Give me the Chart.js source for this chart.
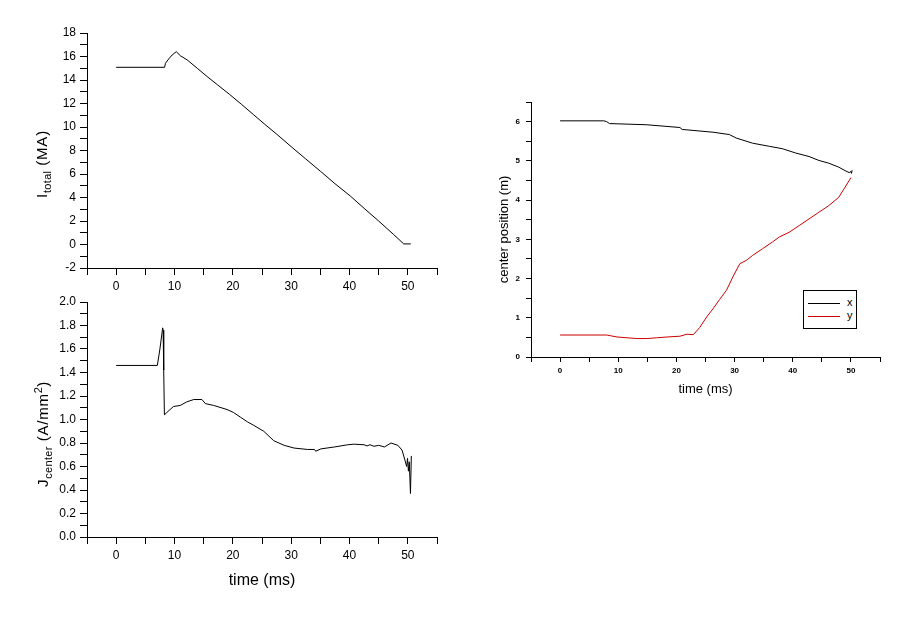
<!DOCTYPE html>
<html>
<head>
<meta charset="utf-8">
<script src="https://cdn.jsdelivr.net/npm/chart.js@4.4.1/dist/chart.umd.min.js"></script>
<style>
    body {
        margin: 0;
        width: 906px;
        height: 617px;
        position: relative;
        overflow: hidden;
        background: #fff;
        font-family: "Liberation Sans", Arial, sans-serif;
    }
    canvas { position: absolute; }
    .ytitle {
        position: absolute;
        transform: translate(-50%, -50%) rotate(-90deg);
        white-space: nowrap;
        font-size: 15px;
        letter-spacing: 0.8px;
        line-height: 17px;
        color: #000;
    }
    .ytitle sub, .ytitle sup { font-size: 11px; letter-spacing: 0.3px; }
    #legend {
        position: absolute;
        left: 803px;
        top: 290px;
        width: 52px;
        height: 37px;
        border: 1px solid #000;
        background: #fff;
        font-size: 11px;
    }
    #legend .row { position: absolute; left: 4px; height: 12px; }
    #legend .line { position: absolute; left: 0; top: 6px; width: 32px; height: 1px; }
    #legend .lbl { position: absolute; left: 39px; top: -1px; }
</style>
</head>
<body>

<canvas id="currentChart" width="450" height="290" style="left:0;top:0"></canvas>
<canvas id="densityChart" width="450" height="327" style="left:0;top:290px"></canvas>
<canvas id="positionChart" width="420" height="330" style="left:480px;top:80px"></canvas>

<div class="ytitle" style="left:44px;top:164px">I<sub>total</sub> (MA)</div>
<div class="ytitle" style="left:43px;top:434px">J<sub>center</sub> (A/mm<sup>2</sup>)</div>

<div id="legend">
    <div class="row" style="top:6px"><div class="line" style="background:#000"></div><span class="lbl">x</span></div>
    <div class="row" style="top:19px"><div class="line" style="background:#cc0000"></div><span class="lbl">y</span></div>
</div>

<script>
// total current (MA)
const timeI = [0, 8.3, 8.45, 9.0, 9.6, 10.3, 11.0, 12.2, 13.9, 15.6, 17.4, 19.4, 21.5, 23.5, 25.5, 27.5, 30.3, 32.5, 35.0, 37.5, 40.2, 42.5, 45.0, 47.5, 49.3, 50.5];
const valueI = [15.08, 15.08, 15.42, 15.79, 16.13, 16.41, 16.07, 15.7, 15.0, 14.29, 13.58, 12.79, 11.92, 11.07, 10.22, 9.4, 8.2, 7.28, 6.24, 5.18, 4.1, 3.08, 2.0, 0.88, 0.05, 0.05];

// current density at the center (A/mm2)
const timeJ = [0, 7.06, 7.5, 7.97, 8.05, 8.15, 8.27, 8.7, 9.8, 11.0, 12.1, 13.3, 14.7, 15.3, 16.7, 19.0, 20.1, 21.3, 22.5, 23.6, 25.3, 27.0, 28.8, 30.5, 32.8, 34.0, 34.2, 35.1, 37.4, 39.7, 40.8, 42.5, 43.0, 43.5, 44.2, 45.0, 46.0, 47.1, 48.3, 49.0, 49.5, 49.8, 49.95, 50.1, 50.25, 50.45, 50.6];
const valueJ = [1.46, 1.46, 1.6, 1.78, 1.76, 1.42, 1.04, 1.06, 1.11, 1.12, 1.15, 1.17, 1.17, 1.135, 1.12, 1.085, 1.06, 1.02, 0.98, 0.95, 0.90, 0.82, 0.78, 0.757, 0.745, 0.745, 0.73, 0.75, 0.766, 0.785, 0.79, 0.785, 0.775, 0.785, 0.772, 0.78, 0.766, 0.80, 0.78, 0.74, 0.655, 0.60, 0.67, 0.56, 0.64, 0.37, 0.69];

// center position (m)
const timeX = [0, 7.5, 8.0, 8.5, 14.9, 20.6, 21.0, 21.8, 26.3, 29.1, 30.3, 33.1, 36.0, 38.2, 40.5, 42.8, 44.5, 46.2, 47.9, 49.0, 49.7, 50.0, 50.1, 50.2];
const posX = [6.02, 6.02, 6.0, 5.95, 5.92, 5.85, 5.80, 5.79, 5.73, 5.67, 5.58, 5.45, 5.37, 5.31, 5.20, 5.11, 5.01, 4.94, 4.84, 4.75, 4.70, 4.73, 4.68, 4.76];
const timeY = [0, 8.0, 9.8, 11.5, 13.2, 14.9, 16.6, 18.4, 20.6, 21.8, 22.9, 24.0, 25.2, 26.3, 27.4, 28.6, 29.7, 30.9, 32.0, 33.1, 34.8, 36.5, 37.7, 39.4, 41.1, 42.8, 44.5, 46.2, 47.9, 49.0, 50.0];
const posY = [0.56, 0.56, 0.51, 0.49, 0.47, 0.47, 0.49, 0.51, 0.53, 0.58, 0.57, 0.75, 1.02, 1.23, 1.46, 1.70, 2.04, 2.38, 2.46, 2.59, 2.76, 2.93, 3.06, 3.18, 3.35, 3.52, 3.69, 3.86, 4.07, 4.33, 4.57];

const timeTicks = [0, 10, 20, 30, 40, 50];

Chart.defaults.font.family = '"Liberation Sans", Arial, sans-serif';
Chart.defaults.color = '#000';

function points(xs, ys) {
    return xs.map((x, i) => ({ x: x, y: ys[i] }));
}

function createChart(id, config) {
    const el = document.getElementById(id);
    if (!el) {
        console.warn(`Canvas not found: ${id}`);
        return;
    }
    return new Chart(el, config);
}

function timeAxis(height, tickLen, font, pad, title) {
    return {
        type: 'linear',
        min: -5,
        max: 55,
        afterFit: s => { s.height = height; },
        grid: { drawOnChartArea: false, color: '#000', tickLength: tickLen },
        border: { color: '#000' },
        ticks: {
            stepSize: 5,
            autoSkip: false,
            maxRotation: 0,
            padding: pad,
            font: font,
            callback: v => timeTicks.includes(v) ? v : ''
        },
        title: title || { display: false }
    };
}

function valueAxis(width, min, max, step, tickLen, font, pad, label, title) {
    return {
        type: 'linear',
        min: min,
        max: max,
        afterFit: s => { s.width = width; },
        grid: { drawOnChartArea: false, color: '#000', tickLength: tickLen },
        border: { color: '#000' },
        ticks: {
            stepSize: step,
            maxTicksLimit: 100,
            autoSkip: false,
            padding: pad,
            font: font,
            callback: label
        },
        title: title || { display: false }
    };
}

const base = {
    type: 'line',
    options: {
        responsive: false,
        animation: false,
        plugins: { legend: { display: false }, tooltip: { enabled: false } },
        elements: {
            point: { radius: 0 },
            line: { borderWidth: 1, tension: 0 }
        }
    }
};

createChart('currentChart', {
    ...base,
    data: {
        datasets: [{ data: points(timeI, valueI), borderColor: '#000' }]
    },
    options: {
        ...base.options,
        layout: { padding: { left: 0, right: 13, top: 33, bottom: 0 } },
        scales: {
            x: timeAxis(22, 7, { size: 12 }, 4),
            y: valueAxis(87, -2, 18, 1, 7, { size: 12 }, 4,
                v => v % 2 === 0 ? v : '')
        }
    }
});

createChart('densityChart', {
    ...base,
    data: {
        datasets: [{ data: points(timeJ, valueJ), borderColor: '#000' }]
    },
    options: {
        ...base.options,
        layout: { padding: { left: 0, right: 13, top: 12, bottom: 0 } },
        scales: {
            x: timeAxis(80, 7, { size: 12 }, 4, {
                display: true,
                text: 'time (ms)',
                font: { size: 16 },
                padding: { top: 0, bottom: 27 }
            }),
            y: valueAxis(87, 0, 2, 0.1, 7, { size: 12 }, 4,
                v => Math.round(v * 10) % 2 === 0 ? v.toFixed(1) : '')
        }
    }
});

createChart('positionChart', {
    ...base,
    data: {
        datasets: [
            { label: 'x', data: points(timeX, posX), borderColor: '#000' },
            { label: 'y', data: points(timeY, posY), borderColor: '#cc0000' }
        ]
    },
    options: {
        ...base.options,
        layout: { padding: { left: 0, right: 20, top: 22, bottom: 0 } },
        scales: {
            x: timeAxis(53, 5, { size: 8, weight: 'bold' }, 4, {
                display: true,
                text: 'time (ms)',
                font: { size: 13 },
                padding: { top: 0, bottom: 13 }
            }),
            y: valueAxis(51, 0, 6.5, 0.5, 5, { size: 8, weight: 'bold' }, 6,
                v => Number.isInteger(v) ? v : '', {
                display: true,
                text: 'center position (m)',
                font: { size: 13 },
                padding: { top: 17, bottom: 0 }
            })
        }
    }
});
</script>
</body>
</html>
